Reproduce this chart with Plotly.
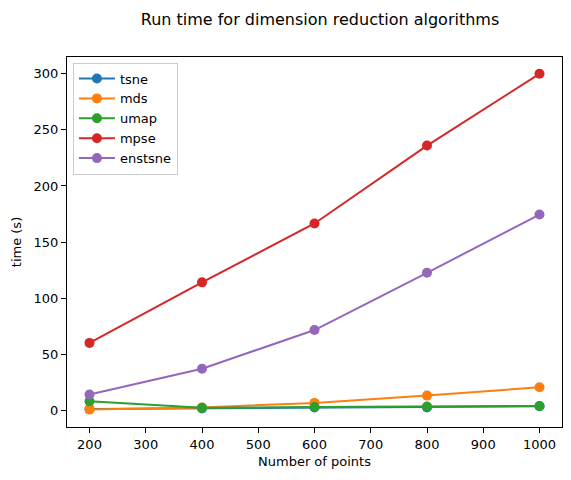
import plotly.graph_objects as go

n_points = [200, 400, 600, 800, 1000]
tsne = [1.0, 1.5, 2.5, 2.5, 3.5]
mds = [0.5, 2.4, 6.5, 13.0, 20.5]
umap = [8.0, 2.2, 2.8, 3.3, 3.8]
mpse = [60.0, 114.0, 166.5, 236.0, 300.0]
enstsne = [14.0, 37.0, 71.5, 122.5, 174.5]

series = [("tsne", tsne, "#1f77b4"), ("mds", mds, "#ff7f0e"), ("umap", umap, "#2ca02c"),
          ("mpse", mpse, "#d62728"), ("enstsne", enstsne, "#9467bd")]

fig = go.Figure()
for name, vals, col in series:
    fig.add_trace(go.Scatter(x=n_points, y=vals, name=name, mode="lines+markers",
                             line=dict(color=col, width=2),
                             marker=dict(color=col, size=10)))

axis_common = dict(showgrid=False, zeroline=False, showline=True, linecolor="black", linewidth=1,
                   mirror=True, ticks="outside", ticklen=5, tickcolor="black", automargin=False,
                   tickfont=dict(size=13, color="black"))
fig.update_layout(
    width=571, height=480,
    margin=dict(l=59, r=17, t=49, b=61),
    paper_bgcolor="white", plot_bgcolor="white",
    font=dict(family="DejaVu Sans", color="black"),
    title=dict(text="Run time for dimension reduction algorithms", x=312/571, xanchor="center",
               y=1 - 11/480, yanchor="middle", font=dict(size=16)),
    xaxis=dict(range=[160, 1040], tickvals=list(range(200, 1001, 100)),
               title=dict(text="Number of points", font=dict(size=13), standoff=6), **axis_common),
    yaxis=dict(range=[-15, 315], tickvals=[0, 50, 100, 150, 200, 250, 300],
               title=dict(text="time (s)", font=dict(size=13), standoff=9), **axis_common),
    legend=dict(x=0.012, y=0.985, xanchor="left", yanchor="top", bgcolor="white",
                bordercolor="#cccccc", borderwidth=1, font=dict(size=13), tracegroupgap=0,
                itemwidth=36),
    showlegend=True,
)
fig.write_html("out.html")
